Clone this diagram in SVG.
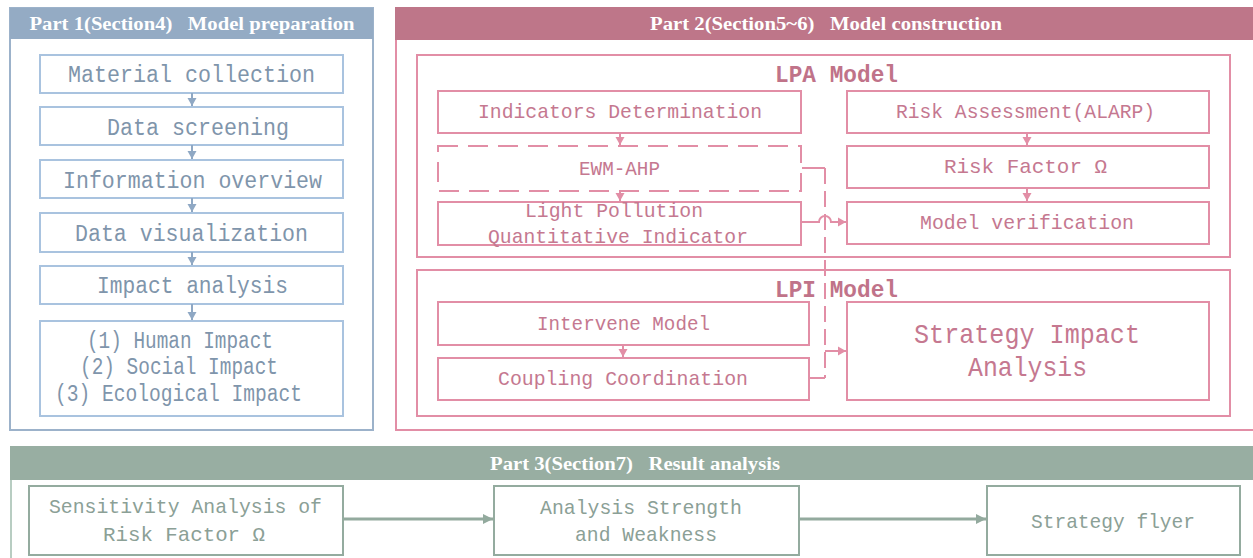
<svg xmlns="http://www.w3.org/2000/svg" width="1253" height="558" viewBox="0 0 1253 558">
<defs>
<style>
.hdr{font-family:"Liberation Serif","Times New Roman",serif;font-weight:bold;font-size:18px;fill:#ffffff;text-anchor:middle;white-space:pre}
.t{font-family:"Liberation Mono","DejaVu Sans Mono",monospace;text-anchor:middle}
.b{fill:#94abc4}
.bb{fill:#ffffff;stroke:#a9c3df;stroke-width:2}
.bt{fill:#7f95ab;font-size:23px}
.p{fill:#be7689}
.pb{fill:#ffffff;stroke:#e28ea6;stroke-width:2}
.pt{fill:#c57890;font-size:21px}
.g{fill:#98aea2}
.gb{fill:#ffffff;stroke:#94ab9f;stroke-width:2}
.gt{fill:#8ba096;font-size:21px}
.bc{stroke:#8fa8c4;stroke-width:2;fill:none}
.pc{stroke:#e28ea6;stroke-width:2;fill:none}
.gc{stroke:#93aa9e;stroke-width:3;fill:none}
</style>
<marker id="ab" markerUnits="userSpaceOnUse" markerWidth="10" markerHeight="10" refX="9" refY="5" orient="auto"><path d="M1,0.5 L9,5 L1,9.5 Z" fill="#8fa8c4"/></marker>
<marker id="ap" markerUnits="userSpaceOnUse" markerWidth="10" markerHeight="10" refX="9" refY="5" orient="auto"><path d="M1,0.5 L9,5 L1,9.5 Z" fill="#e28ea6"/></marker>
<marker id="ag" markerUnits="userSpaceOnUse" markerWidth="12" markerHeight="12" refX="11" refY="6" orient="auto"><path d="M1,1 L11,6 L1,11 Z" fill="#93aa9e"/></marker>
</defs>
<rect width="1253" height="558" fill="#ffffff"/>

<!-- Part 1 -->
<g id="part1">
<rect x="10" y="8" width="363" height="422" fill="#ffffff" stroke="#9cb2ca" stroke-width="2"/>
<rect class="b" x="10" y="8" width="363" height="31"/>
<text class="hdr" x="192" y="30" textLength="325" lengthAdjust="spacingAndGlyphs" xml:space="preserve">Part 1(Section4)   Model preparation</text>
</g>
<g id="n-material"><rect class="bb" x="40" y="55" width="303" height="38"/><text class="t bt" x="191.5" y="82" textLength="247" lengthAdjust="spacingAndGlyphs">Material collection</text></g>
<g id="n-screening"><rect class="bb" x="40" y="107" width="303" height="38"/><text class="t bt" x="198" y="135" textLength="182" lengthAdjust="spacingAndGlyphs">Data screening</text></g>
<g id="n-overview"><rect class="bb" x="40" y="160" width="303" height="38"/><text class="t bt" x="192.5" y="188" textLength="259" lengthAdjust="spacingAndGlyphs">Information overview</text></g>
<g id="n-visual"><rect class="bb" x="40" y="213" width="303" height="39"/><text class="t bt" x="191.5" y="241" textLength="233" lengthAdjust="spacingAndGlyphs">Data visualization</text></g>
<g id="n-impact"><rect class="bb" x="40" y="266" width="303" height="38"/><text class="t bt" x="192.5" y="293" textLength="191" lengthAdjust="spacingAndGlyphs">Impact analysis</text></g>
<g id="n-list"><rect class="bb" x="40" y="321" width="303" height="95"/>
<text class="t bt" x="180" y="348" font-size="20" textLength="186" lengthAdjust="spacingAndGlyphs">(1) Human Impact</text>
<text class="t bt" x="179" y="374" font-size="20" textLength="198" lengthAdjust="spacingAndGlyphs">(2) Social Impact</text>
<text class="t bt" x="178.5" y="401" font-size="20" textLength="247" lengthAdjust="spacingAndGlyphs">(3) Ecological Impact</text>
</g>

<!-- Part 2 -->
<g id="part2">
<path d="M1253,8 H396 V430 H1253" fill="#ffffff" stroke="#e28ea6" stroke-width="2"/>
<rect class="p" x="395" y="7" width="858" height="33"/>
<text class="hdr" x="826" y="30" textLength="352" lengthAdjust="spacingAndGlyphs" xml:space="preserve">Part 2(Section5~6)   Model construction</text>
</g>
<g id="lpa">
<rect class="pb" x="417" y="55" width="813" height="202"/>
<text class="t" x="836.5" y="82" font-size="23" font-weight="bold" fill="#c07389" textLength="123" lengthAdjust="spacingAndGlyphs">LPA Model</text>
</g>
<g id="lpi">
<rect class="pb" x="417" y="270" width="813" height="146"/>
<text class="t" x="836.5" y="297" font-size="23" font-weight="bold" fill="#c07389" textLength="123" lengthAdjust="spacingAndGlyphs">LPI Model</text>
</g>
<g id="n-indicators"><rect class="pb" x="438" y="91" width="363" height="42"/><text class="t pt" x="620" y="118" textLength="284" lengthAdjust="spacingAndGlyphs">Indicators Determination</text></g>
<g id="n-ewm"><rect x="438" y="146" width="363" height="45" fill="#ffffff" stroke="#e28ea6" stroke-width="2" stroke-dasharray="20 10"/><text class="t pt" x="619.5" y="175" textLength="81" lengthAdjust="spacingAndGlyphs">EWM-AHP</text></g>
<g id="n-light"><rect class="pb" x="438" y="202" width="363" height="43"/>
<text class="t pt" x="614" y="217" textLength="178" lengthAdjust="spacingAndGlyphs">Light Pollution</text>
<text class="t pt" x="618" y="243" textLength="260" lengthAdjust="spacingAndGlyphs">Quantitative Indicator</text></g>
<g id="n-risk-assess"><rect class="pb" x="847" y="91" width="362" height="42"/><text class="t pt" x="1025.5" y="118" textLength="259" lengthAdjust="spacingAndGlyphs">Risk Assessment(ALARP)</text></g>
<g id="n-risk-factor"><rect class="pb" x="847" y="146" width="362" height="42"/><text class="t pt" x="1025.5" y="173" textLength="163" lengthAdjust="spacingAndGlyphs">Risk Factor Ω</text></g>
<g id="n-verify"><rect class="pb" x="847" y="202" width="362" height="42"/><text class="t pt" x="1027" y="229" textLength="214" lengthAdjust="spacingAndGlyphs">Model verification</text></g>
<g id="n-intervene"><rect class="pb" x="438" y="302" width="371" height="43"/><text class="t pt" x="623.5" y="330" textLength="173" lengthAdjust="spacingAndGlyphs">Intervene Model</text></g>
<g id="n-coupling"><rect class="pb" x="438" y="358" width="371" height="42"/><text class="t pt" x="623" y="385" textLength="250" lengthAdjust="spacingAndGlyphs">Coupling Coordination</text></g>
<g id="n-strategy-impact"><rect class="pb" x="847" y="302" width="362" height="98"/>
<text class="t" x="1027" y="343" font-size="28" fill="#c57890" textLength="226" lengthAdjust="spacingAndGlyphs">Strategy Impact</text>
<text class="t" x="1027.5" y="376" font-size="28" fill="#c57890" textLength="119" lengthAdjust="spacingAndGlyphs">Analysis</text></g>

<!-- Part 3 -->
<g id="part3">
<path d="M11,558 V447 H1253" fill="#ffffff" stroke="#b8cdc2" stroke-width="2"/>
<rect class="g" x="10" y="446" width="1243" height="34"/>
<text class="hdr" x="635" y="470" font-size="17" textLength="290" lengthAdjust="spacingAndGlyphs" xml:space="preserve">Part 3(Section7)   Result analysis</text>
</g>
<g id="n-sensitivity"><rect class="gb" x="29" y="486" width="314" height="69"/>
<text class="t gt" x="185.5" y="513" textLength="273" lengthAdjust="spacingAndGlyphs">Sensitivity Analysis of</text>
<text class="t gt" x="184" y="541" textLength="162" lengthAdjust="spacingAndGlyphs">Risk Factor Ω</text></g>
<g id="n-strength"><rect class="gb" x="494" y="486" width="305" height="69"/>
<text class="t gt" x="641" y="514" textLength="202" lengthAdjust="spacingAndGlyphs">Analysis Strength</text>
<text class="t gt" x="646" y="541" textLength="142" lengthAdjust="spacingAndGlyphs">and Weakness</text></g>
<g id="n-flyer"><rect class="gb" x="987" y="486" width="253" height="69"/>
<text class="t gt" x="1113" y="528" textLength="164" lengthAdjust="spacingAndGlyphs">Strategy flyer</text></g>

<!-- Connectors -->
<g id="connectors">
<line class="bc" x1="192" y1="93" x2="192" y2="106" marker-end="url(#ab)"/>
<line class="bc" x1="192" y1="145" x2="192" y2="159" marker-end="url(#ab)"/>
<line class="bc" x1="192" y1="198" x2="192" y2="212" marker-end="url(#ab)"/>
<line class="bc" x1="192" y1="252" x2="192" y2="265" marker-end="url(#ab)"/>
<line class="bc" x1="192" y1="304" x2="192" y2="320" marker-end="url(#ab)"/>

<line class="pc" x1="620" y1="133" x2="620" y2="145" marker-end="url(#ap)"/>
<line class="pc" x1="620" y1="191" x2="620" y2="201" marker-end="url(#ap)"/>
<line class="pc" x1="1027" y1="133" x2="1027" y2="145" marker-end="url(#ap)"/>
<line class="pc" x1="1027" y1="188" x2="1027" y2="201" marker-end="url(#ap)"/>
<line class="pc" x1="623" y1="345" x2="623" y2="357" marker-end="url(#ap)"/>

<path class="pc" d="M802,168 H825"/>
<path class="pc" d="M825,168 V378" stroke-dasharray="16 7"/>
<path class="pc" d="M809,378 H825"/>
<path class="pc" d="M825,351 H846" marker-end="url(#ap)"/>
<path class="pc" d="M801,222 H819 A6,6 0 0 1 831,222 H846" stroke-width="2.5" marker-end="url(#ap)"/>

<line class="gc" x1="343" y1="519" x2="493" y2="519" marker-end="url(#ag)"/>
<line class="gc" x1="799" y1="519" x2="986" y2="519" marker-end="url(#ag)"/>
</g>
</svg>
